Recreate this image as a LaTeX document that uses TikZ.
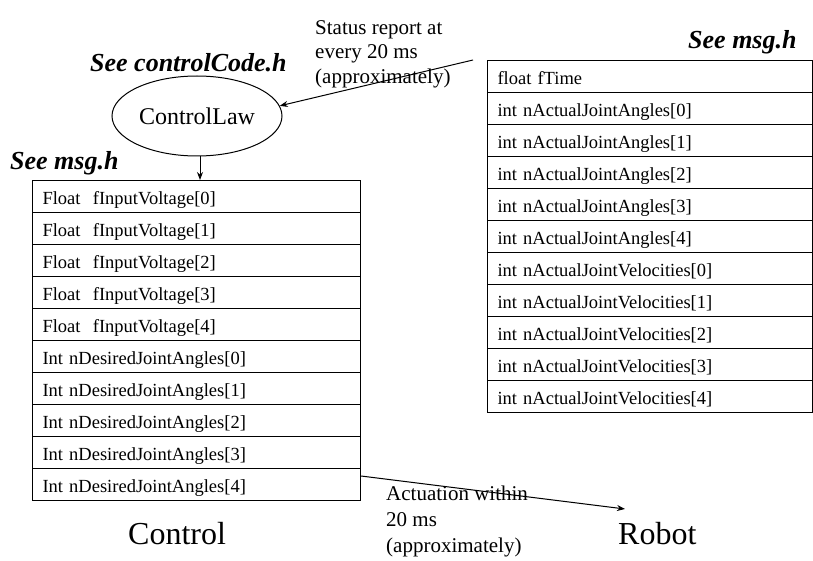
\documentclass[tikz,border=0pt]{standalone}
\usepackage{fontspec}
\setmainfont{Liberation Serif}
\usetikzlibrary{arrows.meta,shapes.geometric}
\begin{document}
\begin{tikzpicture}[x=1pt,y=-1pt,
  rowbox/.style={draw, line width=1pt, minimum height=32pt, inner xsep=10pt, inner ysep=0pt,
     text height=16pt, text depth=0pt, align=left, font=\fontsize{18.5}{21}\selectfont},
  lrow/.style={rowbox, text width=308pt},
  rrow/.style={rowbox, text width=305pt},
  seelbl/.style={inner sep=0pt, anchor=base west, font=\fontsize{26}{30}\selectfont\bfseries\itshape},
  note/.style={inner sep=0pt, anchor=north west, align=left},
  big/.style={inner sep=0pt, anchor=base west, font=\fontsize{32}{36}\selectfont},
  conn/.style={line width=1pt, -{Stealth[length=8pt,width=6pt]}}
]
\useasboundingbox (0,0) rectangle (813,561);

% ellipse
\node[draw, line width=1pt, ellipse, minimum width=170pt, minimum height=80pt, inner sep=0pt,
      font=\fontsize{24}{28}\selectfont] (law) at (197,116) {ControlLaw};

% labels
\node[seelbl] (seeCC) at (90,72) {See controlCode.h};
\node[seelbl] (seeL) at (10,170) {See msg.h};
\node[seelbl] (seeR) at (688,49) {See msg.h};

% left table
\foreach \t [count=\i from 0] in {Float\ \ fInputVoltage[0],Float\ \ fInputVoltage[1],Float\ \ fInputVoltage[2],Float\ \ fInputVoltage[3],Float\ \ fInputVoltage[4],Int nDesiredJointAngles[0],Int nDesiredJointAngles[1],Int nDesiredJointAngles[2],Int nDesiredJointAngles[3],Int nDesiredJointAngles[4]}
  \node[lrow, anchor=north west] (L\i) at (32,180+32*\i) {\t};

% right table
\foreach \t [count=\i from 0] in {float fTime,int nActualJointAngles[0],int nActualJointAngles[1],int nActualJointAngles[2],int nActualJointAngles[3],int nActualJointAngles[4],int nActualJointVelocities[0],int nActualJointVelocities[1],int nActualJointVelocities[2],int nActualJointVelocities[3],int nActualJointVelocities[4]}
  \node[rrow, anchor=north west] (R\i) at (487,60+32*\i) {\t};

% notes
\node[note, font=\fontsize{21}{24.5}\selectfont] (status) at (315,20) {Status report at\\every 20 ms\\(approximately)};
\node[note, font=\fontsize{21}{26}\selectfont] (act) at (386,486) {Actuation within\\20 ms\\(approximately)};

\node[big] (ctl) at (128,544) {Control};
\node[big] (rob) at (618,544) {Robot};

% connectors
\coordinate (sstart) at (473,60);
\coordinate (rtip) at (625,509);
\draw[conn] (sstart) -- (law.7);
\draw[conn] (law.south -| 200,0) -- (L0.north -| 200,0);
\draw[conn] (L9.east |- 0,476) -- (rtip);
\end{tikzpicture}
\end{document}
